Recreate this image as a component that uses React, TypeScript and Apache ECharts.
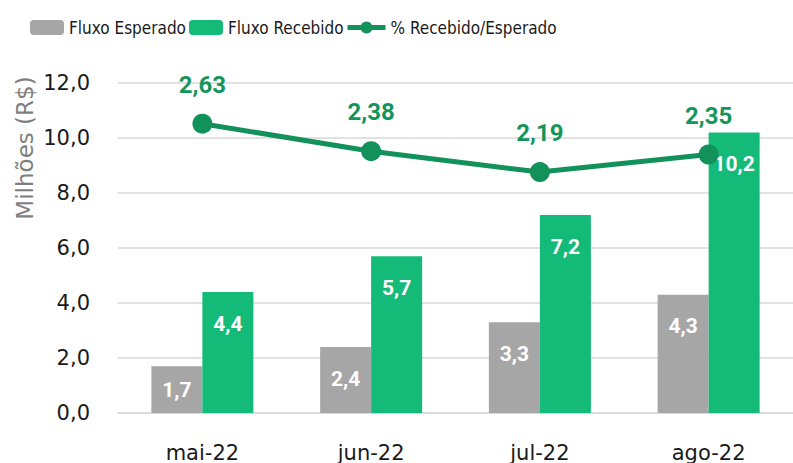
import React, { useEffect, useRef } from "react";
import * as echarts from "echarts";

const categories = ["mai-22", "jun-22", "jul-22", "ago-22"];
const fluxoEsperado = [1.7, 2.4, 3.3, 4.3];
const fluxoRecebido = [4.4, 5.7, 7.2, 10.2];
const percRecebido = [2.63, 2.38, 2.19, 2.35];
const yTicks = [0, 2, 4, 6, 8, 10, 12];

const GREY = "#A6A6A6";
const GREEN = "#14BA78";
const DARK = "#12915A";

const fmt1 = (v: number) => v.toFixed(1).replace(".", ",");
const fmt2 = (v: number) => v.toFixed(2).replace(".", ",");

export default function App() {
  const ref = useRef<HTMLDivElement>(null);
  useEffect(() => {
    if (!ref.current) return;
    const chart = echarts.init(ref.current, null, { renderer: "svg" });
    const barLabel = {
      show: true,
      position: "insideTop" as const,
      distance: 21,
      color: "#ffffff",
      fontFamily: "Roboto",
      fontWeight: "bold" as const,
      fontSize: 21,
      formatter: (p: any) => fmt1(p.value),
    };
    const mkBarData = (arr: number[]) =>
      arr.map((v) => (v < 2 ? { value: v, label: { position: "inside" } } : v));
    const legendText = {
      fontFamily: "'DejaVu Sans Condensed', 'Liberation Sans', sans-serif",
      fontSize: 17,
      color: "#1a1a1a",
    };
    const legendBase = { top: 19, padding: 0, itemHeight: 15, itemGap: 0, textStyle: legendText };
    chart.setOption({
      animation: false,
      legend: [
        { ...legendBase, data: ["Fluxo Esperado"], left: 30, itemWidth: 34 },
        { ...legendBase, data: ["Fluxo Recebido"], left: 189, itemWidth: 34 },
        { ...legendBase, data: ["% Recebido/Esperado"], left: 345, itemWidth: 38, lineStyle: { width: 5 } },
      ],
      grid: { left: 118, top: 83, width: 678, height: 331, containLabel: false },
      xAxis: {
        type: "category",
        data: categories,
        axisLine: { show: true, lineStyle: { color: "#d9d9d9", width: 1.5 } },
        axisTick: { show: false },
        axisLabel: { fontFamily: "DejaVu Sans", fontSize: 21, color: "#1a1a1a", margin: 29 },
      },
      yAxis: [
        {
          type: "value",
          min: yTicks[0],
          max: yTicks[yTicks.length - 1],
          interval: 2,
          axisLine: { show: false },
          axisTick: { show: false },
          splitLine: { lineStyle: { color: "#d9d9d9", width: 1.5 } },
          axisLabel: { fontFamily: "DejaVu Sans", fontSize: 21, color: "#1a1a1a", margin: 28, formatter: (v: number) => fmt1(v) },
        },
        { type: "value", min: 0, max: 3, show: false, splitLine: { show: false } },
      ],
      graphic: [
        {
          type: "text",
          x: 25,
          y: 148,
          rotation: Math.PI / 2,
          style: {
            text: "Milhões (R$)",
            fontFamily: "DejaVu Sans",
            fontSize: 23,
            fill: "#7f7f7f",
            align: "center",
            verticalAlign: "middle",
          },
        },
      ],
      series: [
        {
          name: "Fluxo Esperado",
          type: "bar",
          data: mkBarData(fluxoEsperado),
          barWidth: 51,
          barGap: "0%",
          itemStyle: { color: GREY },
          label: barLabel,
        },
        {
          name: "Fluxo Recebido",
          type: "bar",
          data: mkBarData(fluxoRecebido),
          barWidth: 51,
          barGap: "0%",
          itemStyle: { color: GREEN },
          label: barLabel,
        },
        {
          name: "% Recebido/Esperado",
          type: "line",
          yAxisIndex: 1,
          data: percRecebido,
          symbol: "circle",
          symbolSize: 20,
          lineStyle: { color: DARK, width: 5 },
          itemStyle: { color: DARK },
          label: {
            show: true,
            position: "top",
            distance: 17,
            color: "#16955B",
            fontFamily: "Roboto",
            fontWeight: "bold",
            fontSize: 24,
            formatter: (p: any) => fmt2(p.value),
          },
          z: 5,
        },
      ],
    });
    return () => chart.dispose();
  }, []);
  return <div ref={ref} style={{ width: 793, height: 463, position: "absolute", left: 0, top: 0 }} />;
}
